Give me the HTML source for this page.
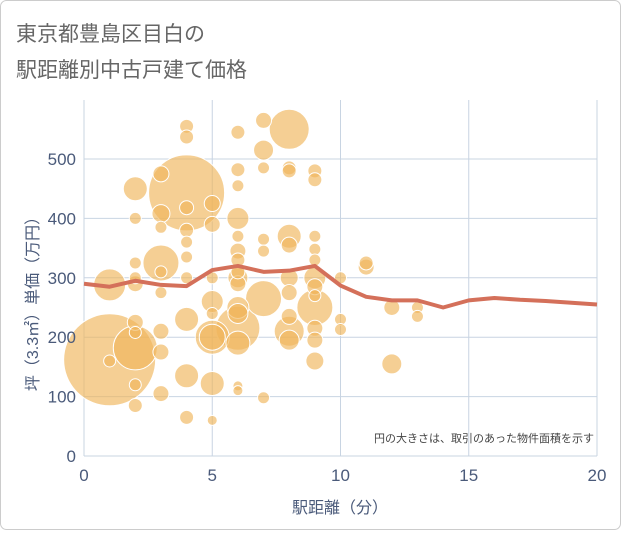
<!DOCTYPE html>
<html><head><meta charset="utf-8">
<style>
body{margin:0;background:#fff;}
svg text{font-family:"Liberation Sans","Noto Sans CJK JP",sans-serif;}
</style></head>
<body>
<svg width="621" height="530" viewBox="0 0 621 530" xmlns="http://www.w3.org/2000/svg">
<rect x="0.5" y="0.5" width="620" height="529" rx="6" fill="#fff" stroke="#ccc"/>
<text x="16" y="41" font-size="21" fill="#666">東京都豊島区目白の</text>
<text x="16" y="77" font-size="21" fill="#666">駅距離別中古戸建て価格</text>
<g id="grid"></g>
<g id="bubbles"></g>
<g id="line"></g>
<g id="axes"></g>
<text x="594" y="442" font-size="11" fill="#444" text-anchor="end">円の大きさは、取引のあった物件面積を示す</text>
<text x="340" y="513" font-size="16" fill="#4a5a7a" text-anchor="middle">駅距離（分）</text>
<text transform="translate(38,300) rotate(-90)" font-size="16" fill="#4a5a7a" text-anchor="middle">坪（3.3㎡）単価（万円）</text>
</svg>
<script>
const xTicks=[0,5,10,15,20];
const yTicks=[0,100,200,300,400,500];
const bx=[1,1,1,2,2,2,2,2,2,2,2,2,2,3,3,3,3,3,3,3,3,3,4,4,4,4,4,4,4,4,4,4,4,5,5,5,5,5,5,5,5,5,6,6,6,6,6,6,6,6,6,6,6,6,6,6,6,6,7,7,7,7,7,7,7,8,8,8,8,8,8,8,8,8,8,9,9,9,9,9,9,9,9,9,9,9,9,10,10,10,11,11,12,12,13,13];
const bv=[162,288,160,182,450,400,325,290,225,208,120,85,300,325,475,408,385,275,210,175,105,310,443,555,537,418,380,360,335,230,135,65,300,425,390,300,260,200,200,122,60,240,545,482,455,400,370,345,310,290,250,240,215,190,118,110,330,300,565,515,485,365,345,265,98,550,485,480,370,355,275,210,195,300,235,480,465,370,348,330,300,285,250,270,215,195,160,300,230,213,325,318,250,155,250,235];
const bs=[46,16,6,22,12,6,6,8,8,6,6,7,6,18,8,9,6,6,8,8,8,6,38,7,7,7,7,6,6,12,12,7,6,8,8,6,11,17,13,12,5,6,7,7,6,11,6,8,7,8,11,10,22,12,5,5,7,10,8,10,6,6,6,18,6,20,7,7,12,8,8,15,10,9,8,7,7,6,6,6,11,8,18,6,8,8,9,6,6,6,7,8,8,10,6,6];
const lx=[0,1,2,3,4,5,6,7,8,9,10,11,12,13,14,15,16,17,18,19,20];
const lv=[290,285,295,288,286,313,320,310,312,320,287,268,262,262,250,262,266,263,261,258,255];
const X=v=>84+v*25.65, Y=v=>456-v*0.594;
const NS='http://www.w3.org/2000/svg';
function mk(t,a,p){const e=document.createElementNS(NS,t);for(const k in a)e.setAttribute(k,a[k]);p.appendChild(e);return e;}
const g=document.getElementById('grid'),ax=document.getElementById('axes');
xTicks.forEach(t=>{const l=mk('line',{x1:X(t),x2:X(t),y1:100,y2:456,stroke:'#c8d4e2'},g);


const tx=mk('text',{x:X(t),y:481,'font-size':17,fill:'#4a5a7a','text-anchor':'middle'},ax);tx.textContent=t;

});
yTicks.forEach(t=>{const l=mk('line',{x1:84,x2:597,y1:Y(t),y2:Y(t),stroke:'#c8d4e2'},g);


const tx=mk('text',{x:76,y:Y(t)+6,'font-size':17,fill:'#4a5a7a','text-anchor':'end'},ax);tx.textContent=t;

});
const b=document.getElementById('bubbles');
bs.map((s,i)=>i).sort((a,c)=>bs[c]-bs[a]).forEach(i=>{const c=mk('circle',{cx:X(bx[i]),cy:Y(bv[i]),r:bs[i],fill:'#efb55a','fill-opacity':0.65,stroke:'#fff','stroke-width':1},b);

});
const p=mk('polyline',{points:lx.map((x,i)=>X(x)+','+Y(lv[i])).join(' '),fill:'none',stroke:'#d4705a','stroke-width':4,'stroke-linejoin':'round'},document.getElementById('line'));


</script>
</body></html>
